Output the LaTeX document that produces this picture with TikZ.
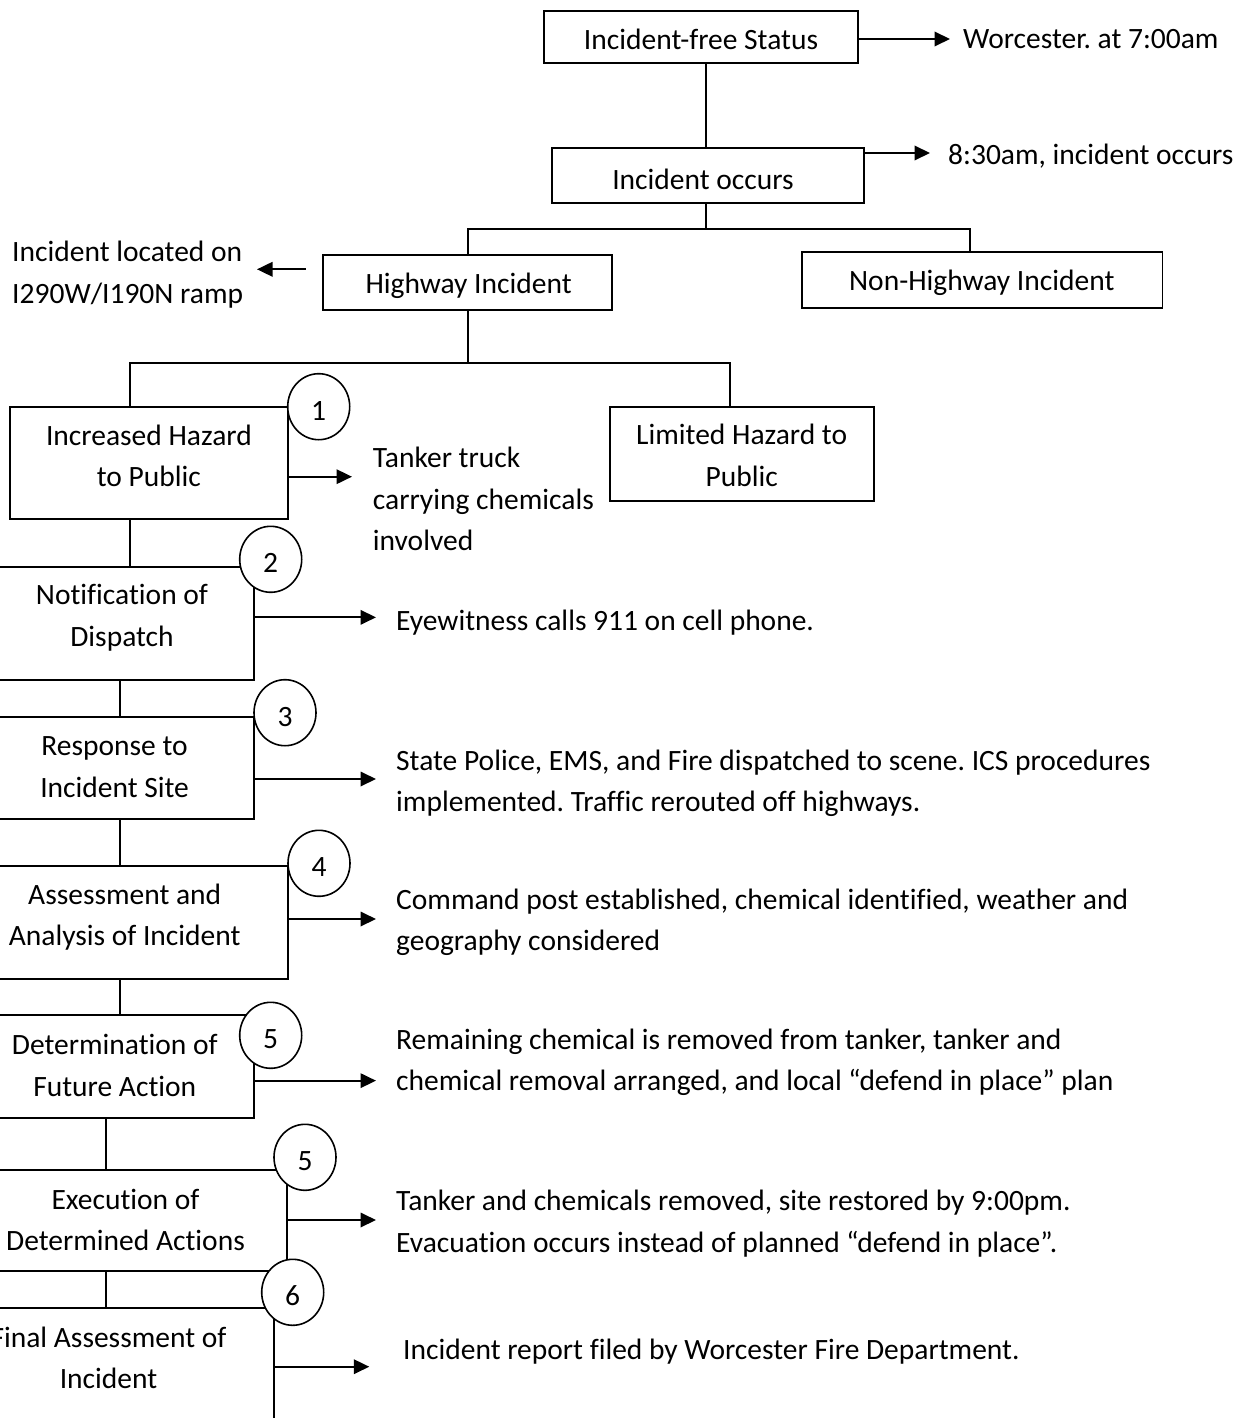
\documentclass[tikz,border=0pt]{standalone}
\usepackage{fontspec}
\setmainfont{Carlito}[Ligatures=CommonOff]
\usetikzlibrary{arrows.meta,shapes.geometric}
\frenchspacing
\begin{document}
\begin{tikzpicture}[x=1pt,y=-1pt,
  txt/.style={font=\fontsize{29.5}{41.5}\selectfont, inner sep=0pt},
  lbl/.style={txt, align=center},
  note/.style={txt, align=left, anchor=west},
  frame/.style={draw, line width=1.9pt, inner sep=0pt, outer sep=0pt, rectangle},
  conn/.style={line width=1.9pt},
  arr/.style={line width=1.9pt, -{Triangle[length=15.5pt,width=14.5pt]}},
  num/.style={txt, draw, fill=white, line width=1.6pt, ellipse, outer sep=0pt,
              minimum width=62pt, minimum height=66pt},
]
\useasboundingbox (0,0) rectangle (1237,1418);
\clip (0,0) rectangle (1237,1418);

% ---- boxes ----
\node[frame, minimum width=313.4pt, minimum height=52.3pt]  (free)   at (701,37.15)    {};
\node[frame, minimum width=312.6pt, minimum height=54.4pt]  (occ)    at (708,175.5)    {};
\node[frame, minimum width=288.7pt, minimum height=55pt]    (hwy)    at (467.75,282.5) {};
\node[frame, minimum width=360.5pt, minimum height=55.4pt]  (nonhwy) at (982.25,280)   {};
\node[frame, minimum width=278pt,   minimum height=112.6pt] (inc)    at (148.9,463)    {};
\node[frame, minimum width=264pt,   minimum height=94.3pt]  (lim)    at (741.9,453.85) {};
\node[frame, minimum width=274pt,   minimum height=113.3pt] (notif)  at (117,623.35)   {};
\node[frame, minimum width=274pt,   minimum height=102.6pt] (resp)   at (117,768)      {};
\node[frame, minimum width=308.3pt, minimum height=113.3pt] (assess) at (134.15,922.35){};
\node[frame, minimum width=274pt,   minimum height=103.3pt] (det)    at (117,1066.65)  {};
\node[frame, minimum width=307.3pt, minimum height=101pt]   (exec)   at (133.65,1220.5){};
\node[frame, minimum width=294pt,   minimum height=132.3pt] (final)  at (127,1373.85)  {};

% ---- box labels ----
\node[lbl] (tfree)   at (701,41)      {\strut Incident-free Status};
\node[lbl] (tocc)    at (703,181)     {\strut Incident occurs};
\node[lbl] (thwy)    at (468.6,285.3) {\strut Highway Incident};
\node[lbl] (tnonhwy) at (981.8,282.3) {\strut Non-Highway Incident};
\node[lbl] (tinc)    at (148.9,457.5) {\strut Increased Hazard\\\strut to Public};
\node[lbl] (tlim)    at (741.7,457.3) {\strut Limited Hazard to\\\strut Public};
\node[lbl] (tnotif)  at (122,617)     {\strut Notification of\\\strut Dispatch};
\node[lbl] (tresp)   at (114.6,768.3) {\strut Response to\\\strut Incident Site};
\node[lbl] (tassess) at (124.7,916.7) {\strut Assessment and\\\strut Analysis of Incident};
\node[lbl] (tdet)    at (114.8,1067)  {\strut Determination of\\\strut Future Action};
\node[lbl] (texec)   at (125.5,1221.7){\strut Execution of\\\strut Determined Actions};
\node[lbl] (tfinal)  at (108.5,1359.5){\strut Final Assessment of\\\strut Incident};

% ---- tree connectors ----
\coordinate (jA) at (706,229.3);
\coordinate (jB) at (467.75,363.3);
\draw[conn] (free.south -| jA) -- (occ.north -| jA);
\draw[conn] (occ.south -| jA) -- (jA);
\draw[conn] (hwy.north) |- (jA) -| ([xshift=-12.25pt]nonhwy.north);
\draw[conn] (hwy.south) -- (jB);
\draw[conn] ([xshift=-19.2pt]inc.north) |- (jB) -| ([xshift=-11.9pt]lim.north);
\draw[conn] ([xshift=-19pt]inc.south) |- (notif.north);
\draw[conn] ([xshift=3pt]notif.south) |- (resp.north);
\draw[conn] ([xshift=3pt]resp.south) |- (assess.north);
\draw[conn] ([xshift=-14.15pt]assess.south) |- (det.north);
\draw[conn] ([xshift=-11pt]det.south) |- (exec.north);
\draw[conn] ([xshift=-27.65pt]exec.south) |- (final.north);

% ---- side notes ----
\node[note] (worc)    at (963,40)     {\strut Worcester. at 7:00am};
\node[note] (t830)    at (948,156)    {\strut 8:30am, incident occurs};
\node[note] (located) at (12,274)     {\strut Incident located on\\\strut I290W/I190N ramp};
\node[note] (tank)    at (372.7,500.7){\strut Tanker truck\\\strut carrying chemicals\\\strut involved};
\node[note] (eye)     at (396,622)    {\strut Eyewitness calls 911 on cell phone.};
\node[note] (state)   at (396,782.5)  {\strut State Police, EMS, and Fire dispatched to scene. ICS procedures\\\strut implemented. Traffic rerouted off highways.};
\node[note] (cmd)     at (396,921.5)  {\strut Command post established, chemical identified, weather and\\\strut geography considered};
\node[note] (rem)     at (396,1061.5) {\strut Remaining chemical is removed from tanker, tanker and\\\strut chemical removal arranged, and local “defend in place” plan};
\node[note] (tank2)   at (396,1223)   {\strut Tanker and chemicals removed, site restored by 9:00pm.\\\strut Evacuation occurs instead of planned “defend in place”.};
\node[note] (rep)     at (403,1351)   {\strut Incident report filed by Worcester Fire Department.};

% ---- arrows to the notes ----
\draw[arr] ([yshift=-1.85pt]free.east) -- ++(92.3,0);
\draw[arr] ([yshift=-4.7pt]occ.north east) -- ++(65.7,0);
\draw[arr] ([xshift=-17.8pt,yshift=13.2pt]hwy.west) -- ++(-48.6,0);
\draw[arr] ([yshift=-13.7pt]inc.east) -- ++(64.1,0);
\draw[arr] ([yshift=6pt]notif.east) -- ++(122,0);
\draw[arr] ([yshift=-11pt]resp.east) -- ++(122,0);
\draw[arr] ([yshift=3.35pt]assess.east) -- ++(87.7,0);
\draw[arr] ([yshift=-14pt]det.east) -- ++(122,0);
\draw[arr] ([yshift=0.5pt]exec.east) -- ++(88.7,0);
\draw[arr] ([yshift=7.15pt]final.east) -- ++(95.3,0);

% ---- numbered step markers ----
\node[num] (n1)  at (318.7,406.7)  {\strut\raisebox{-5pt}{1}};
\node[num] (n2)  at (270.7,559.3)  {\strut\raisebox{-5pt}{2}};
\node[num] (n3)  at (285,712.7)    {\strut\raisebox{-5pt}{3}};
\node[num] (n4)  at (319,863.3)    {\strut\raisebox{-5pt}{4}};
\node[num] (n5a) at (270.7,1035.3) {\strut\raisebox{-5pt}{5}};
\node[num] (n5b) at (305,1157.3)   {\strut\raisebox{-5pt}{5}};
\node[num] (n6)  at (292.7,1292.3) {\strut\raisebox{-5pt}{6}};
\end{tikzpicture}
\end{document}
